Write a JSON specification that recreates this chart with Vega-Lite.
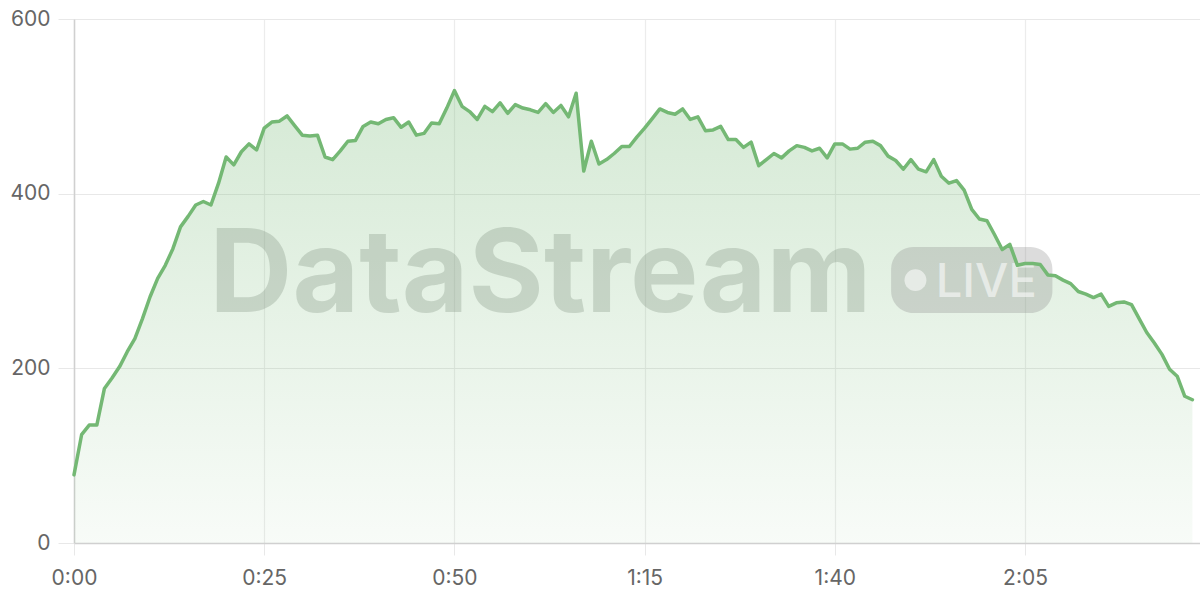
{
  "$schema": "https://vega.github.io/schema/vega-lite/v6.json",
  "width": 1126,
  "height": 524,
  "autosize": {"type": "none"},
  "padding": {"left": 74, "top": 19, "right": 0, "bottom": 57},
  "background": "#ffffff",
  "config": {
    "view": {"stroke": null},
    "font": "Inter",
    "axis": {
      "labelFont": "Inter",
      "labelFontSize": 21,
      "labelColor": "#666666",
      "gridColor": "#e8e8e8",
      "gridWidth": 1.2,
      "tickColor": "#e8e8e8",
      "domainColor": "#d0d0d0",
      "domainWidth": 1.5,
      "title": null
    }
  },
  "datasets": {
    "series": [
      {"t": 0, "v": 78}, {"t": 1, "v": 124}, {"t": 2, "v": 135}, {"t": 3, "v": 135}, {"t": 4, "v": 177},
      {"t": 5, "v": 189}, {"t": 6, "v": 202}, {"t": 7, "v": 219}, {"t": 8, "v": 234}, {"t": 9, "v": 257},
      {"t": 10, "v": 282}, {"t": 11, "v": 303}, {"t": 12, "v": 318}, {"t": 13, "v": 337}, {"t": 14, "v": 362},
      {"t": 15, "v": 374}, {"t": 16, "v": 387}, {"t": 17, "v": 391}, {"t": 18, "v": 387}, {"t": 19, "v": 412},
      {"t": 20, "v": 442}, {"t": 21, "v": 433}, {"t": 22, "v": 448}, {"t": 23, "v": 457}, {"t": 24, "v": 450},
      {"t": 25, "v": 475}, {"t": 26, "v": 482}, {"t": 27, "v": 483}, {"t": 28, "v": 489}, {"t": 29, "v": 478},
      {"t": 30, "v": 467}, {"t": 31, "v": 466}, {"t": 32, "v": 467}, {"t": 33, "v": 442}, {"t": 34, "v": 439},
      {"t": 35, "v": 449}, {"t": 36, "v": 460}, {"t": 37, "v": 461}, {"t": 38, "v": 477}, {"t": 39, "v": 482},
      {"t": 40, "v": 480}, {"t": 41, "v": 485}, {"t": 42, "v": 487}, {"t": 43, "v": 476}, {"t": 44, "v": 482},
      {"t": 45, "v": 467}, {"t": 46, "v": 469}, {"t": 47, "v": 481}, {"t": 48, "v": 480}, {"t": 49, "v": 498},
      {"t": 50, "v": 518}, {"t": 51, "v": 500}, {"t": 52, "v": 494}, {"t": 53, "v": 485}, {"t": 54, "v": 500},
      {"t": 55, "v": 494}, {"t": 56, "v": 504}, {"t": 57, "v": 492}, {"t": 58, "v": 502}, {"t": 59, "v": 498},
      {"t": 60, "v": 496}, {"t": 61, "v": 493}, {"t": 62, "v": 503}, {"t": 63, "v": 493}, {"t": 64, "v": 501},
      {"t": 65, "v": 488}, {"t": 66, "v": 515}, {"t": 67, "v": 426}, {"t": 68, "v": 460}, {"t": 69, "v": 434},
      {"t": 70, "v": 439}, {"t": 71, "v": 446}, {"t": 72, "v": 454}, {"t": 73, "v": 454}, {"t": 74, "v": 465},
      {"t": 75, "v": 475}, {"t": 76, "v": 486}, {"t": 77, "v": 497}, {"t": 78, "v": 493}, {"t": 79, "v": 491},
      {"t": 80, "v": 497}, {"t": 81, "v": 485}, {"t": 82, "v": 488}, {"t": 83, "v": 472}, {"t": 84, "v": 473},
      {"t": 85, "v": 477}, {"t": 86, "v": 462}, {"t": 87, "v": 462}, {"t": 88, "v": 453}, {"t": 89, "v": 459},
      {"t": 90, "v": 432}, {"t": 91, "v": 439}, {"t": 92, "v": 446}, {"t": 93, "v": 441}, {"t": 94, "v": 449},
      {"t": 95, "v": 455}, {"t": 96, "v": 453}, {"t": 97, "v": 449}, {"t": 98, "v": 452}, {"t": 99, "v": 441},
      {"t": 100, "v": 457}, {"t": 101, "v": 457}, {"t": 102, "v": 451}, {"t": 103, "v": 452}, {"t": 104, "v": 459},
      {"t": 105, "v": 460}, {"t": 106, "v": 455}, {"t": 107, "v": 443}, {"t": 108, "v": 438}, {"t": 109, "v": 428},
      {"t": 110, "v": 439}, {"t": 111, "v": 428}, {"t": 112, "v": 425}, {"t": 113, "v": 439}, {"t": 114, "v": 420},
      {"t": 115, "v": 412}, {"t": 116, "v": 415}, {"t": 117, "v": 404}, {"t": 118, "v": 382}, {"t": 119, "v": 371},
      {"t": 120, "v": 369}, {"t": 121, "v": 353}, {"t": 122, "v": 336}, {"t": 123, "v": 342}, {"t": 124, "v": 318},
      {"t": 125, "v": 320}, {"t": 126, "v": 320}, {"t": 127, "v": 319}, {"t": 128, "v": 307}, {"t": 129, "v": 306},
      {"t": 130, "v": 301}, {"t": 131, "v": 297}, {"t": 132, "v": 288}, {"t": 133, "v": 285}, {"t": 134, "v": 281},
      {"t": 135, "v": 285}, {"t": 136, "v": 271}, {"t": 137, "v": 275}, {"t": 138, "v": 276}, {"t": 139, "v": 273},
      {"t": 140, "v": 257}, {"t": 141, "v": 241}, {"t": 142, "v": 229}, {"t": 143, "v": 216}, {"t": 144, "v": 199},
      {"t": 145, "v": 191}, {"t": 146, "v": 168}, {"t": 147, "v": 164}
    ],
    "one": [{"k": 1}]
  },
  "layer": [
    {
      "data": {"name": "series"},
      "mark": {
        "type": "area",
        "line": false,
        "fill": {
          "gradient": "linear",
          "x1": 0, "y1": 0, "x2": 0, "y2": 1,
          "stops": [
            {"offset": 0, "color": "rgba(116,184,116,0.30)"},
            {"offset": 1, "color": "rgba(116,184,116,0.05)"}
          ]
        }
      },
      "encoding": {
        "x": {
          "field": "t", "type": "quantitative",
          "scale": {"domain": [0, 148], "nice": false, "zero": false},
          "axis": {
            "values": [0, 25, 50, 75, 100, 125],
            "labelExpr": "floor(datum.value/60) + ':' + (datum.value % 60 < 10 ? '0' : '') + (datum.value % 60)",
            "tickSize": 12,
            "labelPadding": 12,
            "grid": true,
            "gridColor": "#ececec",
            "labelFlush": false
          }
        },
        "y": {
          "field": "v", "type": "quantitative",
          "scale": {"domain": [0, 600], "nice": false},
          "axis": {
            "values": [0, 200, 400, 600],
            "tickSize": 16,
            "labelPadding": 8,
            "grid": true,
            "labelFlush": false
          }
        }
      }
    },
    {
      "data": {"name": "one"},
      "mark": {"type": "text", "text": "DataStream", "font": "Inter", "fontWeight": "bold", "fontSize": 115, "align": "center", "baseline": "alphabetic", "fill": "#7f907f", "opacity": 0.3},
      "encoding": {"x": {"datum": 61.3, "type": "quantitative"}, "y": {"datum": 264.5, "type": "quantitative"}}
    },
    {
      "data": {"name": "one"},
      "mark": {"type": "rect", "cornerRadius": 22, "fill": "#808080", "opacity": 0.28},
      "encoding": {
        "x": {"datum": 107.4, "type": "quantitative"}, "x2": {"datum": 128.6},
        "y": {"datum": 339, "type": "quantitative"}, "y2": {"datum": 263.4}
      }
    },
    {
      "data": {"name": "one"},
      "mark": {"type": "point", "shape": "circle", "filled": true, "size": 480, "fill": "#ffffff", "opacity": 0.55},
      "encoding": {"x": {"datum": 110.6, "type": "quantitative"}, "y": {"datum": 301, "type": "quantitative"}}
    },
    {
      "data": {"name": "one"},
      "mark": {"type": "text", "text": "LIVE", "font": "Inter", "fontWeight": 500, "fontSize": 47, "align": "center", "baseline": "alphabetic", "fill": "#ffffff", "opacity": 0.55},
      "encoding": {"x": {"datum": 119.9, "type": "quantitative"}, "y": {"datum": 281.7, "type": "quantitative"}}
    },
    {
      "data": {"name": "series"},
      "mark": {"type": "line", "stroke": "#74b874", "strokeWidth": 3.5, "strokeJoin": "round", "strokeCap": "round"},
      "encoding": {
        "x": {"field": "t", "type": "quantitative"},
        "y": {"field": "v", "type": "quantitative"}
      }
    }
  ]
}
